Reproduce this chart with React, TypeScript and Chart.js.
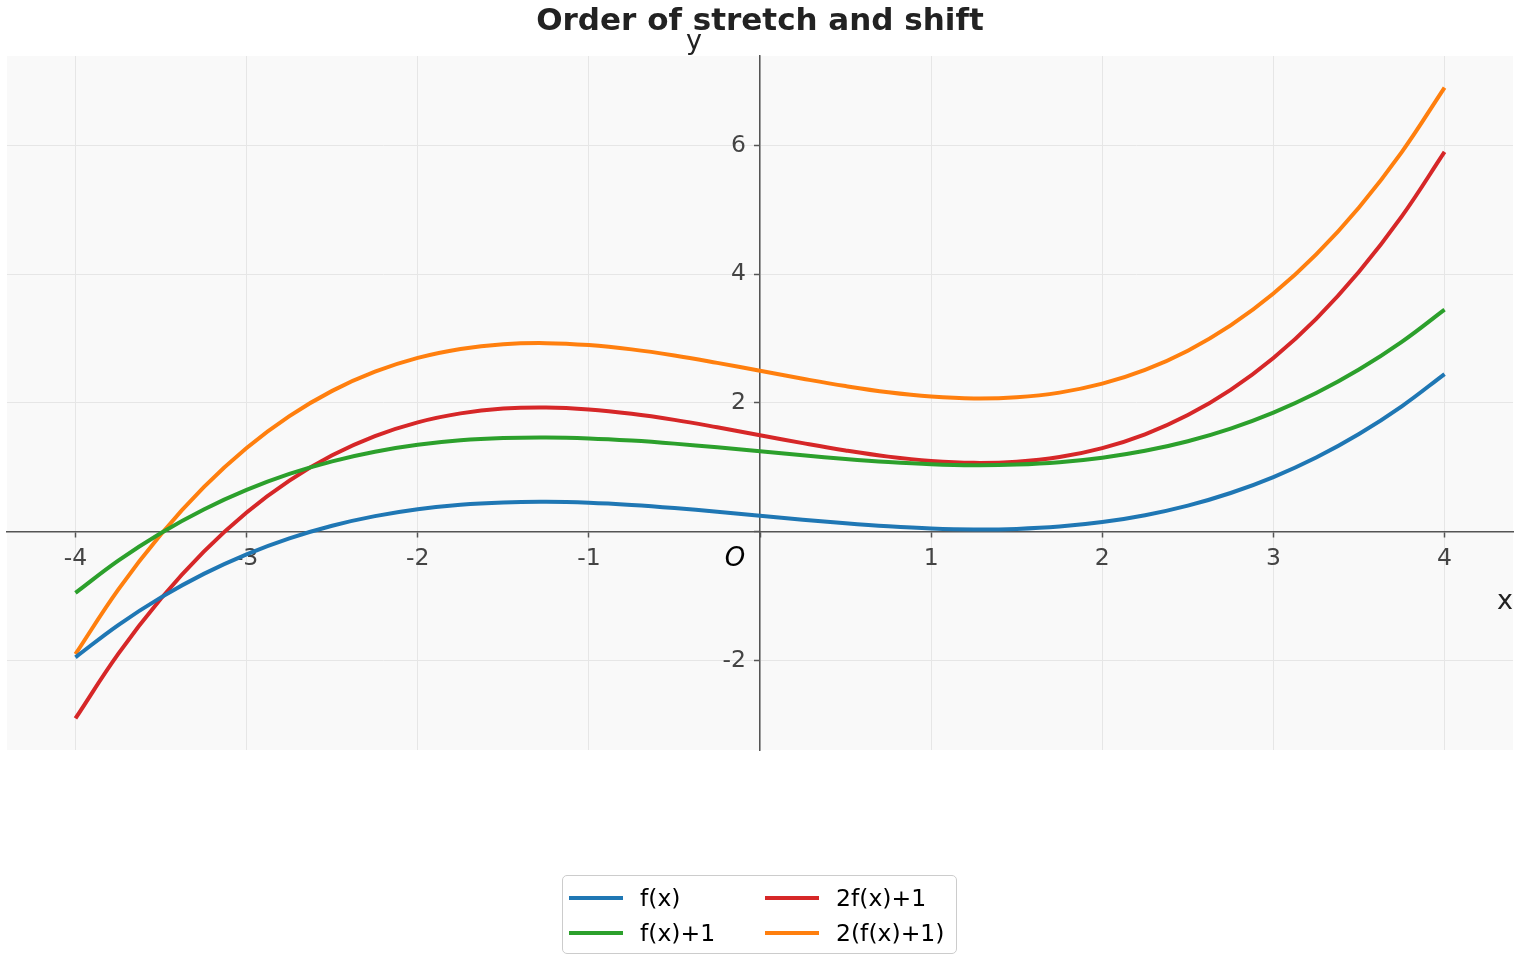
import React, { useEffect, useRef } from "react";
import { Chart, registerables } from "chart.js";

Chart.register(...registerables);

const chartTitle = "Order of stretch and shift";
const xValues = [
  -4, -3.75, -3.5, -3.25, -3, -2.75, -2.5, -2.25, -2, -1.75, -1.5, -1.25, -1, -0.75, -0.5, -0.25,
  0, 0.25, 0.5, 0.75, 1, 1.25, 1.5, 1.75, 2, 2.25, 2.5, 2.75, 3, 3.25, 3.5, 3.75, 4,
];
const fValues = [
  -1.95, -1.449, -1.019, -0.654, -0.35, -0.102, 0.094, 0.243, 0.35, 0.42, 0.456, 0.465, 0.45, 0.416, 0.369, 0.312,
  0.25, 0.188, 0.131, 0.084, 0.05, 0.035, 0.044, 0.08, 0.15, 0.257, 0.406, 0.602, 0.85, 1.154, 1.519, 1.949, 2.45,
];
const fPlusOneValues = [
  -0.95, -0.449, -0.019, 0.346, 0.65, 0.898, 1.094, 1.243, 1.35, 1.42, 1.456, 1.465, 1.45, 1.416, 1.369, 1.312,
  1.25, 1.188, 1.131, 1.084, 1.05, 1.035, 1.044, 1.08, 1.15, 1.257, 1.406, 1.602, 1.85, 2.154, 2.519, 2.949, 3.45,
];
const twoFPlusOneValues = [
  -2.9, -1.898, -1.038, -0.308, 0.3, 0.795, 1.188, 1.486, 1.7, 1.839, 1.913, 1.93, 1.9, 1.833, 1.738, 1.623,
  1.5, 1.377, 1.263, 1.167, 1.1, 1.07, 1.088, 1.161, 1.3, 1.514, 1.813, 2.205, 2.7, 3.308, 4.038, 4.898, 5.9,
];
const twoTimesFPlusOneValues = [
  -1.9, -0.898, -0.038, 0.692, 1.3, 1.795, 2.188, 2.486, 2.7, 2.839, 2.913, 2.93, 2.9, 2.833, 2.738, 2.623,
  2.5, 2.377, 2.263, 2.167, 2.1, 2.07, 2.088, 2.161, 2.3, 2.514, 2.813, 3.205, 3.7, 4.308, 5.038, 5.898, 6.9,
];
const seriesLabels = ["f(x)", "f(x)+1", "2f(x)+1", "2(f(x)+1)"];
const seriesColors = ["#1f77b4", "#2ca02c", "#d62728", "#ff7f0e"];
const xTickValues = [-4, -3, -2, -1, 0, 1, 2, 3, 4];
const yTickValues = [-2, 0, 2, 4, 6];
const xLimits = [-4.4, 4.4];
const yLimits = [-3.39, 7.39];
const xAxisLabel = "x";
const yAxisLabel = "y";
const originLabel = "O";

const FONT = "'DejaVu Sans', 'Liberation Sans', sans-serif";

const plotBackground = {
  id: "plotBackground",
  beforeDraw(chart: any) {
    const { ctx, chartArea } = chart;
    ctx.save();
    ctx.fillStyle = "#f9f9f9";
    ctx.fillRect(chartArea.left, chartArea.top, chartArea.right - chartArea.left, chartArea.bottom - chartArea.top);
    ctx.restore();
  },
};

const axisLabels = {
  id: "axisLabels",
  afterDraw(chart: any) {
    const { ctx, chartArea, scales } = chart;
    const x0 = scales.x.getPixelForValue(0);
    const y0 = scales.y.getPixelForValue(0);
    ctx.save();
    ctx.fillStyle = "#222";
    ctx.textAlign = "center";
    ctx.textBaseline = "middle";
    ctx.font = `27px ${FONT}`;
    ctx.fillText(yAxisLabel, x0 - 66, chartArea.top - 14);
    ctx.fillText(xAxisLabel, chartArea.right - 8, y0 + 70);
    ctx.fillStyle = "#000";
    ctx.font = `italic 26px ${FONT}`;
    ctx.fillText(originLabel, x0 - 25, y0 + 27);
    ctx.restore();
  },
};

export default function App() {
  const canvasRef = useRef<HTMLCanvasElement | null>(null);

  useEffect(() => {
    if (!canvasRef.current) return;
    Chart.defaults.font.family = FONT;
    const allSeries = [fValues, fPlusOneValues, twoFPlusOneValues, twoTimesFPlusOneValues];
    const chart = new Chart(canvasRef.current, {
      type: "line",
      data: {
        datasets: allSeries.map((vals, i) => ({
          label: seriesLabels[i],
          data: xValues.map((x, j) => ({ x, y: vals[j] })),
          borderColor: seriesColors[i],
          backgroundColor: seriesColors[i],
          borderWidth: 4,
          pointRadius: 0,
          tension: 0.4,
          fill: false,
        })),
      },
      options: {
        animation: false,
        responsive: true,
        maintainAspectRatio: false,
        layout: { padding: { left: 7, right: 7, top: 0, bottom: 210 } },
        plugins: {
          legend: { display: false },
          tooltip: { enabled: false },
          title: {
            display: true,
            text: chartTitle,
            color: "#222",
            font: { size: 31, weight: "bold", family: FONT, lineHeight: 1.2 },
            padding: { top: 3, bottom: 15.8 },
          },
        },
        scales: {
          x: {
            type: "linear",
            position: { y: 0 } as any,
            min: xLimits[0],
            max: xLimits[1],
            afterBuildTicks: (s: any) => {
              s.ticks = xTickValues.map((v) => ({ value: v }));
            },
            ticks: {
              callback: (v: any) => (v === 0 ? "" : String(v)),
              color: "#444",
              font: { size: 23.5, family: FONT },
              autoSkip: false,
              maxRotation: 0,
              padding: 8,
            },
            grid: { color: "#e6e6e6", lineWidth: 1, tickColor: "#555", tickLength: 5, tickWidth: 1.5 },
            border: { color: "#555", width: 1.5 },
          },
          y: {
            type: "linear",
            position: "center",
            min: yLimits[0],
            max: yLimits[1],
            afterBuildTicks: (s: any) => {
              s.ticks = yTickValues.map((v) => ({ value: v }));
            },
            ticks: {
              callback: (v: any) => (v === 0 ? "" : String(v)),
              color: "#444",
              font: { size: 23.5, family: FONT },
              autoSkip: false,
              padding: 9,
            },
            grid: { color: "#e6e6e6", lineWidth: 1, tickColor: "#555", tickLength: 5, tickWidth: 1.5 },
            border: { color: "#555", width: 1.5 },
          },
        },
      },
      plugins: [plotBackground, axisLabels],
    });
    return () => chart.destroy();
  }, []);

  const legendRows = [
    [0, 2],
    [1, 3],
  ];

  return (
    <div style={{ position: "fixed", left: 0, top: 0, width: 1520, height: 960, background: "#fff" }}>
      <canvas ref={canvasRef} />
      <div
        style={{
          position: "absolute",
          left: 562,
          top: 875,
          width: 395,
          height: 79,
          boxSizing: "border-box",
          border: "1.5px solid #cccccc",
          borderRadius: 5,
          background: "rgba(255,255,255,0.85)",
          fontFamily: FONT,
          fontSize: 23.5,
          color: "#000",
        }}
      >
        {legendRows.map((row, r) =>
          row.map((idx, c) => (
            <div
              key={`${r}-${c}`}
              style={{
                position: "absolute",
                left: c === 0 ? 6 : 202,
                top: r === 0 ? 4 : 39,
                height: 36,
                display: "flex",
                alignItems: "center",
                whiteSpace: "nowrap",
              }}
            >
              <span style={{ display: "inline-block", width: 54, height: 4, background: seriesColors[idx] }} />
              <span style={{ marginLeft: 17 }}>{seriesLabels[idx]}</span>
            </div>
          ))
        )}
      </div>
    </div>
  );
}
